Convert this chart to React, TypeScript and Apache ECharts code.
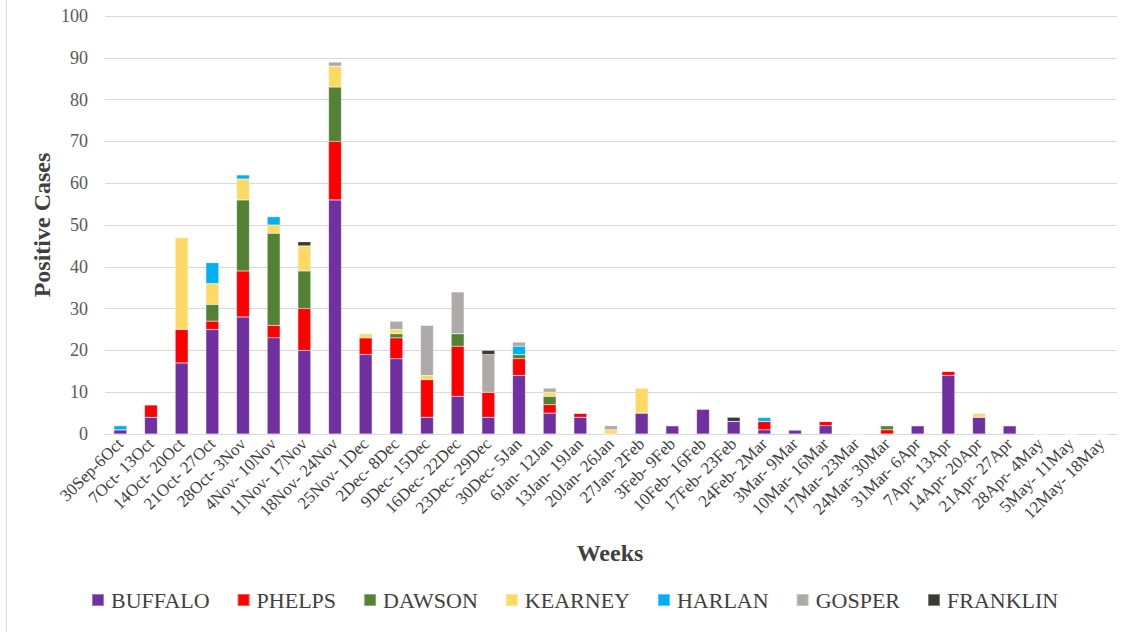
import React, { useEffect, useRef } from "react";
import * as echarts from "echarts";

const weeks = [
  "30Sep-6Oct", "7Oct- 13Oct", "14Oct- 20Oct", "21Oct- 27Oct", "28Oct- 3Nov",
  "4Nov- 10Nov", "11Nov- 17Nov", "18Nov- 24Nov", "25Nov- 1Dec", "2Dec- 8Dec",
  "9Dec- 15Dec", "16Dec- 22Dec", "23Dec- 29Dec", "30Dec- 5Jan", "6Jan- 12Jan",
  "13Jan- 19Jan", "20Jan- 26Jan", "27Jan- 2Feb", "3Feb- 9Feb", "10Feb- 16Feb",
  "17Feb- 23Feb", "24Feb- 2Mar", "3Mar- 9Mar", "10Mar- 16Mar", "17Mar- 23Mar",
  "24Mar- 30Mar", "31Mar- 6Apr", "7Apr- 13Apr", "14Apr- 20Apr", "21Apr- 27Apr",
  "28Apr- 4May", "5May- 11May", "12May- 18May",
];

const buffalo = [1, 4, 17, 25, 28, 23, 20, 56, 19, 18, 4, 9, 4, 14, 5, 4, 0, 5, 2, 6, 3, 1, 1, 2, 0, 0, 2, 14, 4, 2, 0, 0, 0];
const phelps = [0, 3, 8, 2, 11, 3, 10, 14, 4, 5, 9, 12, 6, 4, 2, 1, 0, 0, 0, 0, 0, 2, 0, 1, 0, 1, 0, 1, 0, 0, 0, 0, 0];
const dawson = [0, 0, 0, 4, 17, 22, 9, 13, 0, 1, 0, 3, 0, 1, 2, 0, 0, 0, 0, 0, 0, 0, 0, 0, 0, 1, 0, 0, 0, 0, 0, 0, 0];
const kearney = [0, 0, 22, 5, 5, 2, 6, 5, 1, 1, 1, 0, 0, 0, 1, 0, 1, 6, 0, 0, 0, 0, 0, 0, 0, 0, 0, 0, 1, 0, 0, 0, 0];
const harlan = [1, 0, 0, 5, 1, 2, 0, 0, 0, 0, 0, 0, 0, 2, 0, 0, 0, 0, 0, 0, 0, 1, 0, 0, 0, 0, 0, 0, 0, 0, 0, 0, 0];
const gosper = [0, 0, 0, 0, 0, 0, 0, 1, 0, 2, 12, 10, 9, 1, 1, 0, 1, 0, 0, 0, 0, 0, 0, 0, 0, 0, 0, 0, 0, 0, 0, 0, 0];
const franklin = [0, 0, 0, 0, 0, 0, 1, 0, 0, 0, 0, 0, 1, 0, 0, 0, 0, 0, 0, 0, 1, 0, 0, 0, 0, 0, 0, 0, 0, 0, 0, 0, 0];

const yTicks = [0, 10, 20, 30, 40, 50, 60, 70, 80, 90, 100];

const seriesDefs = [
  { name: "BUFFALO", data: buffalo, color: "#7030A0" },
  { name: "PHELPS", data: phelps, color: "#FF0000" },
  { name: "DAWSON", data: dawson, color: "#548235" },
  { name: "KEARNEY", data: kearney, color: "#FFD966" },
  { name: "HARLAN", data: harlan, color: "#00B0F0" },
  { name: "GOSPER", data: gosper, color: "#AEAAAA" },
  { name: "FRANKLIN", data: franklin, color: "#3B3838" },
];

const FONT = "Liberation Serif";

export default function App() {
  const ref = useRef<HTMLDivElement>(null);
  useEffect(() => {
    document.body.style.margin = "0";
    if (!ref.current) return;
    const chart = echarts.init(ref.current, null, { renderer: "svg" });
    chart.setOption({
      animation: false,
      backgroundColor: "#ffffff",
      textStyle: { fontFamily: FONT },
      grid: { left: 105, right: 6, top: 16, bottom: 198, containLabel: false },
      legend: {
        bottom: 16,
        left: 86,
        itemWidth: 12,
        itemHeight: 12,
        itemGap: 27,
        icon: "rect",
        textStyle: {
          fontFamily: FONT,
          fontSize: 22,
          color: "#404040",
          padding: [3, 0, 0, 2],
        },
        data: seriesDefs.map((s) => s.name),
      },
      xAxis: {
        type: "category",
        data: weeks,
        axisLine: { lineStyle: { color: "#d9d9d9" } },
        axisTick: { show: false },
        axisLabel: {
          interval: 0,
          rotate: 45,
          fontSize: 17,
          color: "#404040",
          fontFamily: FONT,
          margin: 7,
        },
      },
      yAxis: {
        type: "value",
        min: 0,
        max: yTicks[yTicks.length - 1],
        interval: yTicks[1] - yTicks[0],
        axisLine: { show: false },
        axisTick: { show: false },
        splitLine: { lineStyle: { color: "#d9d9d9", width: 1 } },
        axisLabel: {
          fontSize: 18,
          color: "#595959",
          fontFamily: FONT,
          margin: 17,
        },
      },
      graphic: [
        {
          type: "line",
          shape: { x1: 6.5, y1: 0, x2: 6.5, y2: 632 },
          style: { stroke: "#d9d9d9", lineWidth: 1 },
        },
        {
          type: "text",
          x: 42,
          y: 225,
          rotation: Math.PI / 2,
          style: {
            text: "Positive Cases",
            fontFamily: FONT,
            fontSize: 24,
            fontWeight: "bold",
            fill: "#404040",
            align: "center",
            verticalAlign: "middle",
          },
        },
        {
          type: "text",
          x: 610,
          y: 553,
          style: {
            text: "Weeks",
            fontFamily: FONT,
            fontSize: 24,
            fontWeight: "bold",
            fill: "#404040",
            align: "center",
            verticalAlign: "middle",
          },
        },
      ],
      series: seriesDefs.map((s) => ({
        name: s.name,
        type: "bar",
        stack: "total",
        barWidth: "42%",
        data: s.data,
        itemStyle: { color: s.color, borderColor: "rgba(255,255,255,0.35)", borderWidth: 0.5 },
      })),
    });
    return () => chart.dispose();
  }, []);
  return <div ref={ref} style={{ width: 1123, height: 632 }} />;
}
